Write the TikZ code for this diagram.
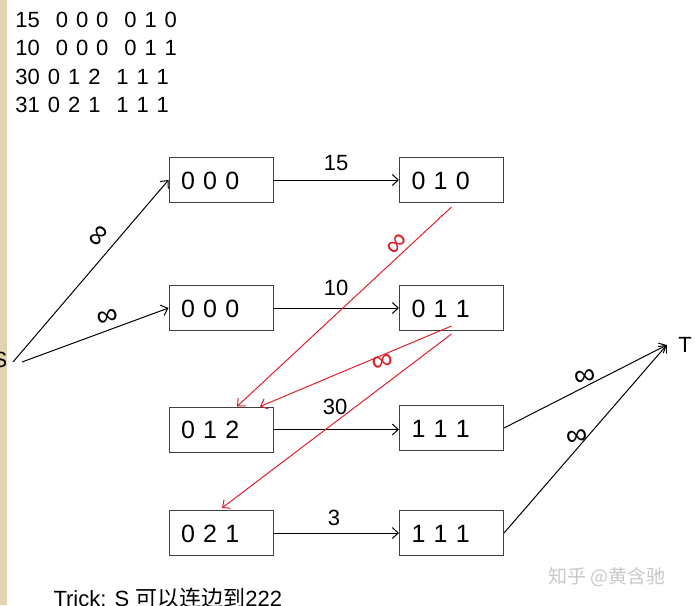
\documentclass[tikz,border=0pt]{standalone}
\usepackage{fontspec}
\usetikzlibrary{arrows.meta}
\setmainfont{Liberation Sans}
\newfontfamily\boxfont[WordSpace=1.45]{Liberation Sans}
\newfontfamily\listfont[WordSpace=1.3]{Liberation Sans}
\newfontfamily\cjk{Noto Sans CJK SC}
\definecolor{strip}{RGB}{226,212,178}
\definecolor{mark}{RGB}{200,200,200}
\definecolor{redline}{RGB}{222,32,42}

\begin{document}
\begin{tikzpicture}[x=1pt, y=-1pt, line width=1pt,
  >={Straight Barb[length=6pt,width=11pt]},
  state/.style={draw=black!75, minimum width=104pt, minimum height=45pt,
    text width=80pt, align=left, inner xsep=12pt, inner ysep=0pt,
    text height=18pt, text depth=0pt, font=\boxfont\fontsize{25}{30}\selectfont},
  weight/.style={inner sep=0pt, text height=16pt, text depth=0pt,
    font=\listfont\fontsize{22}{26}\selectfont},
  inf/.style={inner sep=0pt, font=\fontsize{30}{32}\selectfont},
  cut/.style={->, redline}]
  \useasboundingbox (0,0) rectangle (695,605);
  \fill[strip] (0,0) rectangle (7,605);

  %% list
  \node[anchor=base west, inner sep=0pt, font=\listfont\fontsize{22}{26}\selectfont] (l15) at (15,27) {15~~0 0 0~~0 1 0};
  \node[anchor=base west, inner sep=0pt, font=\listfont\fontsize{22}{26}\selectfont] (l10) at (15,55.5) {10~~0 0 0~~0 1 1};
  \node[anchor=base west, inner sep=0pt, font=\listfont\fontsize{22}{26}\selectfont] (l30) at (15,84) {30 0 1 2~~1 1 1};
  \node[anchor=base west, inner sep=0pt, font=\listfont\fontsize{22}{26}\selectfont] (l31) at (15,112.5) {31 0 2 1~~1 1 1};

  %% states
  \node[state] (a000) at (221,180) {0 0 0};
  \node[state] (a010) at (451.5,180) {0 1 0};
  \node[state] (b000) at (221,308) {0 0 0};
  \node[state] (b011) at (451.5,308) {0 1 1};
  \node[state] (c012) at (221,429.5) {0 1 2};
  \node[state] (c111) at (451.5,428) {1 1 1};
  \node[state] (d021) at (221,533) {0 2 1};
  \node[state] (d111) at (451.5,533) {1 1 1};

  \node[inner sep=0pt, font=\fontsize{22}{26}\selectfont] (S) at (0,360) {S};
  \node[inner sep=0pt, font=\fontsize{22}{26}\selectfont] (T) at (685,345) {T};
  \coordinate (s1) at (13,362);
  \coordinate (s2) at (22,362);

  \draw[->] (s1) -- (a000.west);
  \draw[->] (s2) -- (b000.west);
  \draw[->] (a000) -- (a010);
  \draw[->] (b000) -- (b011);
  \draw[->] (c012.east) -- (c012.east -| c111.west);
  \draw[->] (d021) -- (d111);
  \draw[->] (c111.east) -- ([xshift=-11pt]T.west);
  \draw[->] (d111.east) -- ([xshift=-11pt]T.west);

  \draw[cut] ([yshift=-4pt]a010.south) -- ([xshift=16pt]c012.north);
  \draw[cut] ([yshift=5pt]b011.south) -- ([xshift=39pt]c012.north);
  \draw[cut] ([yshift=-3pt]b011.south) -- ([xshift=1pt,yshift=2pt]d021.north);

  \node[weight] (w15) at (336,162.5) {15};
  \node[weight] (w10) at (336,287) {10};
  \node[weight] (w30) at (335,406) {30};
  \node[weight] (w3) at (334,517.5) {3};

  \node[inf, rotate=55] (i1) at (100,237) {∞};
  \node[inf, rotate=15] (i2) at (108,318) {∞};
  \node[inf, rotate=10] (i3) at (585,378) {∞};
  \node[inf, rotate=10] (i4) at (577,438) {∞};
  \node[inf, redline, rotate=50] (i5) at (398,245) {∞};
  \node[inf, redline, rotate=15] (i6) at (383,363) {∞};

  \node[anchor=base west, inner sep=0pt, font=\fontsize{22}{26}\selectfont] (trick) at (53,606) {Trick: S {\cjk 可以连边到}222};
  \node[anchor=west, inner sep=0pt, text=mark, font=\cjk\fontsize{19}{22}\selectfont] (wm) at (548,577) {知乎 @黄含驰};
\end{tikzpicture}
\end{document}
